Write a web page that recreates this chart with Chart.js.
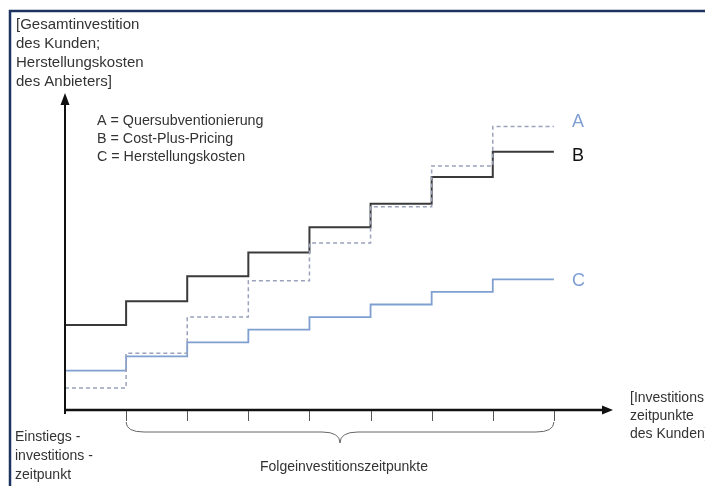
<!DOCTYPE html>
<html>
<head>
<meta charset="utf-8">
<script src="https://cdn.jsdelivr.net/npm/chart.js@4"></script>
<style>
html,body{margin:0;padding:0;background:#fff;}
canvas{display:block;}
</style>
</head>
<body>
<canvas id="c" width="705" height="486"></canvas>
<script>
// Investment points (step boundaries) on the x axis
const stepPoints = [0, 1, 2, 3, 4, 5, 6, 7, 8];
// Series values (held until next point; last value repeated as end point)
const seriesA = [7, 18, 29.5, 41, 53, 64.5, 77.5, 90, 90];      // Quersubventionierung
const seriesB = [27, 34.5, 42.5, 50, 58, 65.5, 74, 82, 82];     // Cost-Plus-Pricing
const seriesC = [12.5, 17, 21.5, 25.5, 29.5, 33.5, 37.5, 41.5, 41.5]; // Herstellungskosten
// Tick marks under the x axis (Folgeinvestitionszeitpunkte)
const tickPoints = [1, 2, 3, 4, 5, 6, 7, 8];
const legendLines = ["A = Quersubventionierung", "B = Cost-Plus-Pricing", "C = Herstellungskosten"];
const yTitle = ["[Gesamtinvestition", "des Kunden;", "Herstellungskosten", "des Anbieters]"];
const xTitle = ["[Investitions", "zeitpunkte", "des Kunden]"];
const startLabel = ["Einstiegs -", "investitions -", "zeitpunkt"];
const braceLabel = "Folgeinvestitionszeitpunkte";
const seriesNames = ["A", "B", "C"];

function toXY(vals){ return stepPoints.map((x,i)=>({x:x, y:vals[i]})); }

const FONT = '"Liberation Sans", Arial, Helvetica, sans-serif';

const decor = {
  id: 'decor',
  afterDatasetsDraw(chart){
    const ctx = chart.ctx;
    const xs = chart.scales.x, ys = chart.scales.y;
    const ca = chart.chartArea;
    const x0 = xs.getPixelForValue(0);
    const y0 = ys.getPixelForValue(0);
    ctx.save();
    // frame (navy)
    ctx.strokeStyle = '#1d3461';
    ctx.lineWidth = 2.5;
    ctx.beginPath();
    ctx.moveTo(10, 486);
    ctx.lineTo(10, 11);
    ctx.lineTo(705, 11);
    ctx.stroke();

    // axes
    ctx.strokeStyle = '#111';
    ctx.fillStyle = '#111';
    ctx.lineWidth = 2;
    ctx.beginPath();
    ctx.moveTo(x0, y0 + 4);
    ctx.lineTo(x0, ca.top + 8);
    ctx.stroke();
    ctx.beginPath();
    ctx.moveTo(x0, ca.top - 2);
    ctx.lineTo(x0 - 4.5, ca.top + 10);
    ctx.lineTo(x0 + 4.5, ca.top + 10);
    ctx.closePath();
    ctx.fill();

    ctx.lineWidth = 2.5;
    ctx.beginPath();
    ctx.moveTo(x0 - 1, y0);
    ctx.lineTo(ca.right - 10, y0);
    ctx.stroke();
    ctx.beginPath();
    ctx.moveTo(ca.right - 2, y0);
    ctx.lineTo(ca.right - 13, y0 - 4.5);
    ctx.lineTo(ca.right - 13, y0 + 4.5);
    ctx.closePath();
    ctx.fill();

    // tick marks
    ctx.strokeStyle = '#555';
    ctx.lineWidth = 1;
    tickPoints.forEach(t => {
      const px = Math.round(xs.getPixelForValue(t)) + 0.5;
      ctx.beginPath();
      ctx.moveTo(px, y0 + 1);
      ctx.lineTo(px, y0 + 11);
      ctx.stroke();
    });

    // brace
    const bx1 = xs.getPixelForValue(tickPoints[0]);
    const bx2 = xs.getPixelForValue(tickPoints[tickPoints.length - 1]);
    const mid = (bx1 + bx2) / 2;
    const bt = y0 + 12, bm = y0 + 22, bb = y0 + 33;
    ctx.strokeStyle = '#666';
    ctx.beginPath();
    ctx.moveTo(bx1, bt);
    ctx.quadraticCurveTo(bx1, bm, bx1 + 18, bm);
    ctx.lineTo(mid - 18, bm);
    ctx.quadraticCurveTo(mid, bm, mid, bb);
    ctx.quadraticCurveTo(mid, bm, mid + 18, bm);
    ctx.lineTo(bx2 - 18, bm);
    ctx.quadraticCurveTo(bx2, bm, bx2, bt);
    ctx.stroke();

    // texts
    ctx.fillStyle = '#333';
    ctx.textBaseline = 'middle';
    ctx.textAlign = 'left';
    ctx.font = '15px ' + FONT;
    yTitle.forEach((s,i) => ctx.fillText(s, 16, 25 + i * 19));
    ctx.font = '14.3px ' + FONT;
    legendLines.forEach((s,i) => ctx.fillText(s, 97, 121 + i * 18));
    ctx.font = '14px ' + FONT;
    xTitle.forEach((s,i) => ctx.fillText(s, 630, 398 + i * 18));
    startLabel.forEach((s,i) => ctx.fillText(s, 15, 437 + i * 19));
    ctx.textAlign = 'center';
    ctx.fillText(braceLabel, mid + 4, 467);

    // series end labels
    ctx.textAlign = 'left';
    ctx.font = '18px ' + FONT;
    const ends = [seriesA, seriesB, seriesC];
    const cols = ['#7f9fd2', '#111', '#7f9fd2'];
    const offs = [-4, 4, 2];
    const lx = xs.getPixelForValue(stepPoints[stepPoints.length - 1]) + 18;
    ends.forEach((arr,i) => {
      ctx.fillStyle = cols[i];
      ctx.fillText(seriesNames[i], lx, ys.getPixelForValue(arr[arr.length - 1]) + offs[i]);
    });
    ctx.restore();
  }
};

new Chart(document.getElementById('c'), {
  type: 'line',
  data: {
    datasets: [
      { label: 'A', data: toXY(seriesA), stepped: true, borderColor: '#9aa2bc', borderWidth: 1.5, borderDash: [4, 3], pointRadius: 0, fill: false },
      { label: 'C', data: toXY(seriesC), stepped: true, borderColor: '#7f9fd0', borderWidth: 1.8, pointRadius: 0, fill: false },
      { label: 'B', data: toXY(seriesB), stepped: true, borderColor: '#3a3a3a', borderWidth: 2, pointRadius: 0, fill: false }
    ]
  },
  options: {
    responsive: false,
    animation: false,
    devicePixelRatio: 1,
    layout: { padding: { left: 65, right: 90, top: 95, bottom: 76 } },
    plugins: { legend: { display: false }, tooltip: { enabled: false } },
    scales: {
      x: { type: 'linear', min: 0, max: 9, display: false },
      y: { min: 0, max: 100, display: false }
    }
  },
  plugins: [decor]
});
</script>
</body>
</html>
